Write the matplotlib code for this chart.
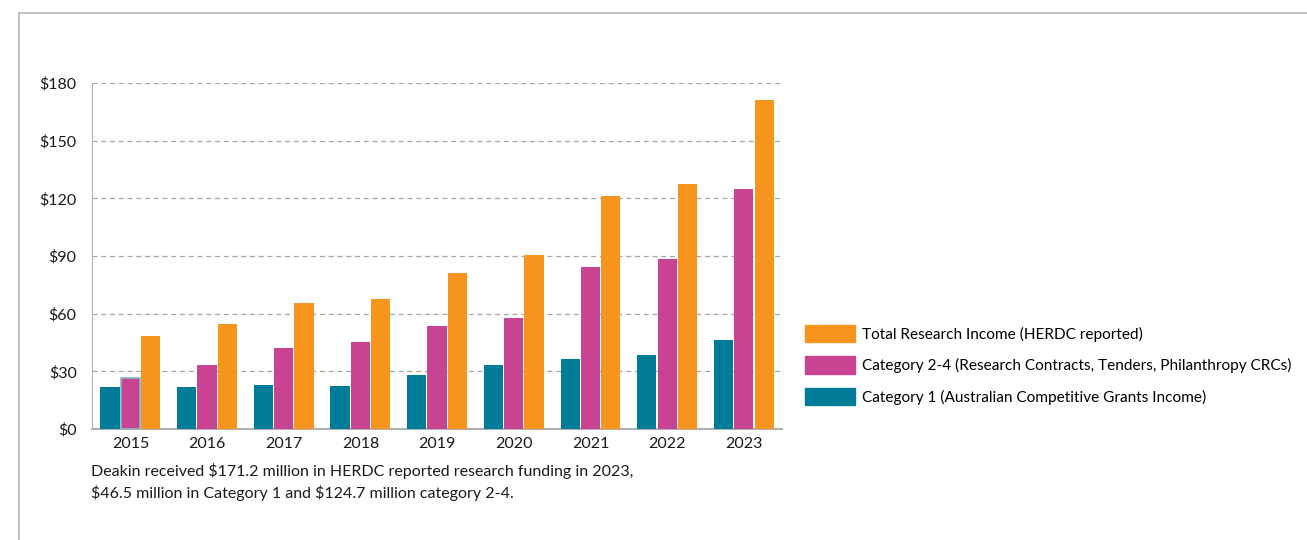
import matplotlib.pyplot as plt
import numpy as np
from matplotlib.lines import Line2D
from matplotlib.patches import Patch

years = ['2015', '2016', '2017', '2018', '2019', '2020', '2021', '2022', '2023']
cat1 = [21.8, 21.8, 22.8, 22.3, 28.0, 33.2, 36.3, 38.6, 46.5]
cat24 = [26.6, 33.2, 42.1, 45.2, 53.5, 57.6, 84.1, 88.2, 124.7]
total = [48.3, 54.5, 65.4, 67.5, 81.0, 90.3, 121.0, 127.3, 171.2]

labels = ['Total Research Income (HERDC reported)',
          'Category 2-4 (Research Contracts, Tenders, Philanthropy CRCs)',
          'Category 1 (Australian Competitive Grants Income)']
yticks = [0, 30, 60, 90, 120, 150, 180]

c_teal = '#007C99'
c_pink = '#C84493'
c_orange = '#F7941D'
grey = '#A6A6A6'

plt.rcParams['font.family'] = ['Lato', 'DejaVu Sans']

fig = plt.figure(figsize=(13.07, 5.4), dpi=100)
ax = fig.add_axes([0.0704, 0.2056, 0.528, 0.6406])

x = np.arange(len(years))
w = 0.25
off = 0.265
ax.bar(x - off, cat1, w, color=c_teal, zorder=3)
b2 = ax.bar(x, cat24, w, color=c_pink, zorder=3)
b2[0].set_edgecolor('#7FB8CC')
b2[0].set_linewidth(1.2)
ax.bar(x + off, total, w, color=c_orange, zorder=3)

ax.set_xlim(-0.5, len(years) - 0.5)
ax.set_ylim(0, 180)
ax.set_yticks(yticks)
ax.set_yticklabels(['$' + str(v) for v in yticks])
ax.set_xticks(x)
ax.set_xticklabels(years)
ax.tick_params(axis='both', length=0, labelsize=11.5, colors='#1a1a1a')
ax.tick_params(axis='y', pad=11)
ax.tick_params(axis='x', pad=6)

ax.yaxis.grid(True, color=grey, linestyle=(0, (4, 3)), linewidth=0.9)
ax.set_axisbelow(True)
for s in ['top', 'right']:
    ax.spines[s].set_visible(False)
ax.spines['left'].set_color('#B0B0B0')
ax.spines['bottom'].set_color('#B0B0B0')
ax.spines['bottom'].set_linewidth(1.5)

handles = [Patch(color=c_orange), Patch(color=c_pink), Patch(color=c_teal)]
fig.legend(handles, labels, loc='center left', bbox_to_anchor=(0.605, 0.324),
           frameon=False, fontsize=11.1, handlelength=3.25, handleheight=1.35,
           handletextpad=0.5, labelspacing=0.92)

fig.text(0.0696, 0.107,
         'Deakin received $171.2 million in HERDC reported research funding in 2023,\n'
         '$46.5 million in Category 1 and $124.7 million category 2-4.',
         fontsize=11.5, va='center', ha='left', linespacing=1.45, color='#1a1a1a',
         parse_math=False)

# outer frame: top and left edges only
fig.add_artist(Line2D([0.0145, 1.0], [0.976, 0.976], color='#B8B8B8', lw=1.2))
fig.add_artist(Line2D([0.0145, 0.0145], [0.0, 0.976], color='#B8B8B8', lw=1.2))

fig.savefig('out.png', dpi=100)
